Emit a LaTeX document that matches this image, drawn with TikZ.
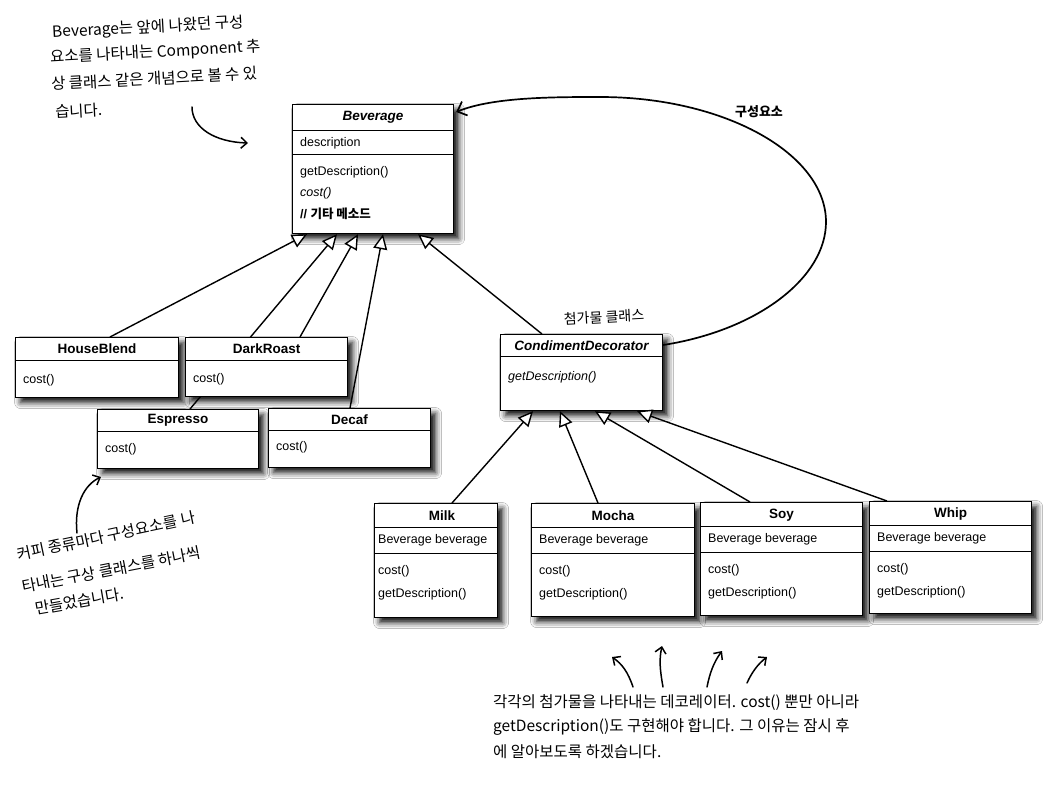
\documentclass[tikz,border=0pt]{standalone}
\usepackage{fontspec}
\setmainfont{Liberation Sans}
\newfontfamily\cjk{Noto Sans CJK KR}
\usetikzlibrary{arrows.meta,calc,shadows.blur}
\newcommand\umlclass[6]{%
  \node[cls, minimum width=#4pt, minimum height=#5pt] (#1) at (#2,#3) {};
  \draw[div] ($(#1.north west)+(0,#6)$) -- ($(#1.north east)+(0,#6)$);
}
\begin{document}
\begin{tikzpicture}[x=1pt,y=-1pt,
  cls/.style={draw=black, line width=1.2pt, fill=white, rectangle, anchor=north west, inner sep=0pt,
    blur shadow={shadow xshift=5pt, shadow yshift=-5pt, shadow blur radius=6pt, shadow opacity=95}},
  ttl/.style={font=\fontsize{13.5}{15}\selectfont\bfseries, inner sep=0pt},
  mem/.style={font=\fontsize{12.5}{14}\selectfont, anchor=west, inner sep=0pt},
  div/.style={line width=1pt},
  inh/.style={line width=1.4pt, -{Triangle[open, fill=white, length=15pt, width=14pt, line width=1.4pt]}},
  comp/.style={line width=1.7pt, -{Straight Barb[length=8pt, width=15pt, line width=1.7pt]}},
  hand/.style={line width=1.5pt, line cap=round, -{Straight Barb[length=6pt, width=11pt, line width=1.5pt]}},
  note/.style={font=\cjk\fontsize{15.5}{18}\selectfont, inner sep=0pt, anchor=west},
]
\useasboundingbox[fill=white] (0,0) rectangle (1045,786);

% Beverage
\umlclass{bev}{292}{104}{161}{129}{27}
\draw[div] ($(bev.north west)+(0,51)$) -- ($(bev.north east)+(0,51)$);
\node[ttl, font=\fontsize{13.5}{15}\selectfont\bfseries\itshape] (bevt) at ($(bev.north)+(0,13.5)$) {Beverage};
\node[mem] (beva) at ($(bev.north west)+(8,39)$) {description};
\node[mem] (bevm1) at ($(bev.north west)+(8,68)$) {getDescription()};
\node[mem, font=\fontsize{12.5}{14}\selectfont\itshape] (bevm2) at ($(bev.north west)+(8,89)$) {cost()};
\node[mem, font=\fontsize{12.5}{14}\selectfont\bfseries] (bevm3) at ($(bev.north west)+(8,110)$) {// {\cjk 기타 메소드}};

% concrete components
\umlclass{hb}{15}{337}{163}{60}{24}
\node[ttl] (hbt) at ($(hb.north)+(0,12)$) {HouseBlend};
\node[mem] (hbm) at ($(hb.north west)+(8,43)$) {cost()};

\umlclass{esp}{97}{409}{161}{59}{23}
\node[ttl] (espt) at ($(esp.north)+(0,11.5)$) {Espresso};
\node[mem] (espm) at ($(esp.north west)+(8,40)$) {cost()};

\umlclass{dec}{268}{408}{162}{59}{23}
\node[ttl] (dect) at ($(dec.north)+(0,11.5)$) {Decaf};
\node[mem] (decm) at ($(dec.north west)+(8,39)$) {cost()};

\draw[inh] ($(esp.north west)+(93,0)$) -- ($(bev.south west)+(45,0)$);

\umlclass{dr}{185}{337}{162}{59}{24}
\node[ttl] (drt) at ($(dr.north)+(0,12)$) {DarkRoast};
\node[mem] (drm) at ($(dr.north west)+(8,42)$) {cost()};

% decorator
\umlclass{cd}{500}{334}{162}{76}{23}
\node[ttl, font=\fontsize{13.5}{15}\selectfont\bfseries\itshape] (cdt) at ($(cd.north)+(0,11.5)$) {CondimentDecorator};
\node[mem, font=\fontsize{12.5}{14}\selectfont\itshape] (cdm) at ($(cd.north west)+(8,43)$) {getDescription()};
\node[font=\cjk\fontsize{14}{16}\selectfont, rotate=3, inner sep=0pt] (hw) at (604,317) {첨가물 클래스};

% concrete decorators
\umlclass{milk}{374}{503}{123}{114}{24}
\draw[div] ($(milk.north west)+(0,50)$) -- ($(milk.north east)+(0,50)$);
\node[ttl] (milkt) at (442,516) {Milk};
\node[mem] (milka) at ($(milk.north west)+(4,37)$) {Beverage beverage};
\node[mem] (milkm1) at ($(milk.north west)+(4,68)$) {cost()};
\node[mem] (milkm2) at ($(milk.north west)+(4,91)$) {getDescription()};

\umlclass{mocha}{531}{503}{163}{113}{24}
\draw[div] ($(mocha.north west)+(0,50)$) -- ($(mocha.north east)+(0,50)$);
\node[ttl] (mochat) at ($(mocha.north)+(0,13)$) {Mocha};
\node[mem] (mochaa) at ($(mocha.north west)+(8,37)$) {Beverage beverage};
\node[mem] (mocham1) at ($(mocha.north west)+(8,68)$) {cost()};
\node[mem] (mocham2) at ($(mocha.north west)+(8,91)$) {getDescription()};

\umlclass{soy}{700}{502}{162}{113}{24}
\draw[div] ($(soy.north west)+(0,50)$) -- ($(soy.north east)+(0,50)$);
\node[ttl] (soyt) at ($(soy.north)+(0,13)$) {Soy};
\node[mem] (soya) at ($(soy.north west)+(8,37)$) {Beverage beverage};
\node[mem] (soym1) at ($(soy.north west)+(8,68)$) {cost()};
\node[mem] (soym2) at ($(soy.north west)+(8,91)$) {getDescription()};

\umlclass{whip}{869}{501}{162}{112}{24}
\draw[div] ($(whip.north west)+(0,50)$) -- ($(whip.north east)+(0,50)$);
\node[ttl] (whipt) at ($(whip.north)+(0,13)$) {Whip};
\node[mem] (whipa) at ($(whip.north west)+(8,37)$) {Beverage beverage};
\node[mem] (whipm1) at ($(whip.north west)+(8,68)$) {cost()};
\node[mem] (whipm2) at ($(whip.north west)+(8,91)$) {getDescription()};

% inheritance
\draw[inh] ($(hb.north west)+(95,0)$) -- ($(bev.south west)+(15,0)$);
\draw[inh] ($(dr.north west)+(115,0)$) -- ($(bev.south west)+(66,0)$);
\draw[inh] ($(dec.north west)+(82,0)$) -- ($(bev.south west)+(91,0)$);
\draw[inh] ($(cd.north west)+(42,0)$) -- ($(bev.south west)+(126,0)$);
\draw[inh] ($(milk.north west)+(78,0)$) -- ($(cd.south west)+(33,0)$);
\draw[inh] ($(mocha.north west)+(67,0)$) -- ($(cd.south west)+(60,0)$);
\draw[inh] ($(soy.north west)+(50,0)$) -- ($(cd.south west)+(95,0)$);
\draw[inh] ($(whip.north west)+(18,0)$) -- ($(cd.south west)+(137,0)$);

% composition loop
\coordinate (cdr) at ($(cd.north east)+(0,11)$);
\coordinate (bevr) at ($(bev.north east)+(2,8)$);
\coordinate (rt) at (826,222);
\coordinate (tp) at (600,97);
\draw[comp] (cdr) .. controls (759,330) and (826,277) .. (rt)
  .. controls (826,154) and (725,97) .. (tp)
  .. controls (554,97) and (493,97) .. (bevr);
\node[font=\cjk\bfseries\fontsize{13}{15}\selectfont, inner sep=0pt] (lbl) at (759,112) {구성요소};

% notes
\node[note, rotate=3] (n1a) at (52,33) {Beverage는 앞에 나왔던 구성};
\node[note, rotate=3] (n1b) at (50,58) {요소를 나타내는 Component 추};
\node[note, rotate=3] (n1c) at (51,84) {상 클래스 같은 개념으로 볼 수 있};
\node[note, rotate=3] (n1d) at (55,112) {습니다.};
\coordinate (a1s) at (192,107);
\coordinate (a1e) at (248,143);
\draw[hand] (a1s) .. controls (192,128) and (215,142) .. (a1e);

\node[note, rotate=12] (n2a) at (17,555) {커피 종류마다 구성요소를 나};
\node[note, rotate=11] (n2b) at (22,587) {타내는 구상 클래스를 하나씩};
\node[note, rotate=10] (n2c) at (35,609) {만들었습니다.};
\coordinate (a2s) at (77,533);
\coordinate (a2e) at (101,477);
\draw[hand] (a2s) .. controls (74,505) and (84,485) .. (a2e);

\node[note] (n3a) at (493,703) {각각의 첨가물을 나타내는 데코레이터. cost() 뿐만 아니라};
\node[note] (n3b) at (493,727) {getDescription()도 구현해야 합니다. 그 이유는 잠시 후};
\node[note] (n3c) at (493,752) {에 알아보도록 하겠습니다.};
\coordinate (b1s) at (633,687); \coordinate (b1e) at (612,657);
\coordinate (b2s) at (663,687); \coordinate (b2e) at (662,646);
\coordinate (b3s) at (707,687); \coordinate (b3e) at (722,651);
\coordinate (b4s) at (747,683); \coordinate (b4e) at (767,657);
\draw[hand] (b1s) .. controls (628,672) and (622,664) .. (b1e);
\draw[hand] (b2s) .. controls (660,670) and (659,660) .. (b2e);
\draw[hand] (b3s) .. controls (710,672) and (714,662) .. (b3e);
\draw[hand] (b4s) .. controls (752,672) and (758,664) .. (b4e);
\end{tikzpicture}
\end{document}
